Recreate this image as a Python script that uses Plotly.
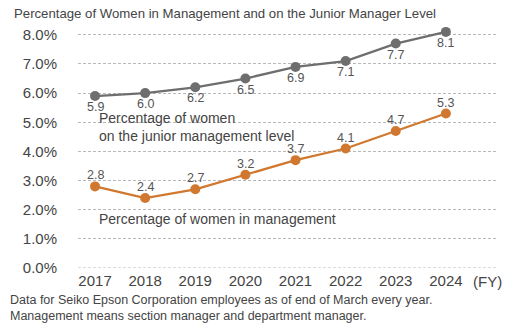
import plotly.graph_objects as go

years = [2017, 2018, 2019, 2020, 2021, 2022, 2023, 2024]
junior_mgmt = [5.9, 6.0, 6.2, 6.5, 6.9, 7.1, 7.7, 8.1]
mgmt = [2.8, 2.4, 2.7, 3.2, 3.7, 4.1, 4.7, 5.3]
y_ticks = [0, 1, 2, 3, 4, 5, 6, 7, 8]
y_tick_text = ["0.0%", "1.0%", "2.0%", "3.0%", "4.0%", "5.0%", "6.0%", "7.0%", "8.0%"]

GRAY = "#6e6e6e"
ORANGE = "#d0782f"
TEXT = "#444444"
GRID = "#b8b8b8"
FONT = "Liberation Sans, Arial, sans-serif"

W, H = 520, 328
ML, MR, MT, MB = 78, 22, 29, 60


def px(xp, yp):
    """Convert page pixels to paper coordinates of the plot area."""
    return (xp - ML) / (W - ML - MR), (H - MB - yp) / (H - MT - MB)


fig = go.Figure()
for vals, color in ((junior_mgmt, GRAY), (mgmt, ORANGE)):
    fig.add_trace(go.Scatter(
        x=years, y=vals, mode="lines+markers",
        line=dict(color=color, width=2.3), marker=dict(color=color, size=10),
        cliponaxis=False, showlegend=False,
    ))

# value labels: below the junior-level points, above the management points
for yr, v in zip(years, junior_mgmt):
    fig.add_annotation(x=yr, y=v, text=f"{v:.1f}", showarrow=False,
                       yshift=-11, font=dict(size=12.5, color="#555555"))
for yr, v in zip(years, mgmt):
    fig.add_annotation(x=yr, y=v, text=f"{v:.1f}", showarrow=False,
                       yshift=11, font=dict(size=12.5, color="#555555"))

fig.update_layout(
    width=W, height=H,
    margin=dict(l=ML, r=MR, t=MT, b=MB),
    plot_bgcolor="white", paper_bgcolor="white",
    font=dict(family=FONT, color=TEXT),
    xaxis=dict(
        range=[2016.66, 2025.04], tickvals=years, ticktext=[str(y) for y in years],
        showgrid=False, zeroline=False, showline=False, ticks="",
        tickfont=dict(size=15, color=TEXT), ticklabelstandoff=2,
    ),
    yaxis=dict(
        range=[0, 8.2], tickvals=y_ticks, ticktext=y_tick_text,
        showgrid=True, gridcolor=GRID, griddash="3px,2px", gridwidth=1,
        zeroline=False, showline=False, ticks="",
        tickfont=dict(size=15, color=TEXT), ticklabelstandoff=20,
    ),
)
# dashed baseline at zero
fig.add_shape(type="line", xref="paper", yref="y", x0=0, x1=1, y0=0, y1=0,
              line=dict(color=GRID, width=1, dash="3px,2px"), layer="below")


def note(xp, yp, text, size, xanchor="left"):
    x, y = px(xp, yp)
    fig.add_annotation(xref="paper", yref="paper", x=x, y=y,
                       xanchor=xanchor, yanchor="middle", showarrow=False,
                       align="left", text=text, font=dict(size=size, color=TEXT))


note(12, 13, "Percentage of Women in Management and on the Junior Manager Level", 13.2)
note(487, 281, "(FY)", 15, xanchor="center")
note(97, 127, "Percentage of women<br>on the junior management level", 14)
note(97, 219, "Percentage of women in management", 14)
note(8, 308, "Data for Seiko Epson Corporation employees as of end of March every year.<br>"
             "Management means section manager and department manager.", 12.5)

fig.write_html("out.html")
